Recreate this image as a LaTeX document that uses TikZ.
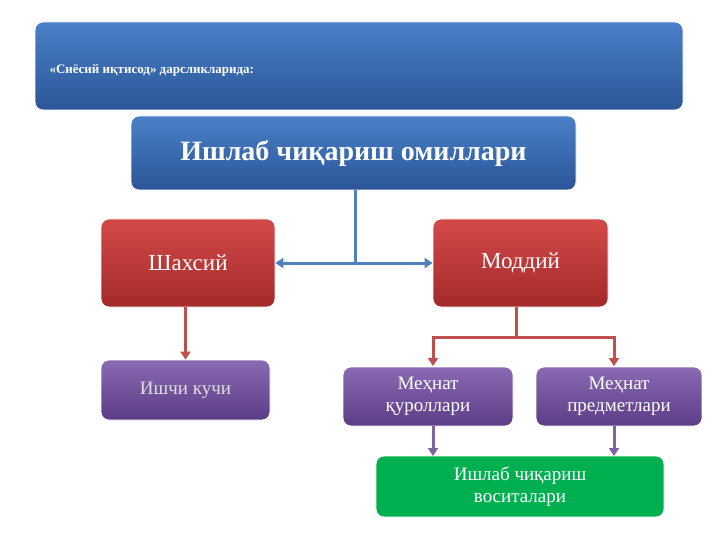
\documentclass[tikz,border=0pt]{standalone}
\usepackage{fontspec}
\setmainfont{Liberation Serif}
\usetikzlibrary{arrows.meta}
\definecolor{bt}{HTML}{4A80C8}\definecolor{bb}{HTML}{2B5597}
\definecolor{rt}{HTML}{D24A48}\definecolor{rb}{HTML}{A32A2A}
\definecolor{pt}{HTML}{8A6AB2}\definecolor{pb}{HTML}{5B3C86}
\definecolor{gg}{HTML}{00B050}
\definecolor{bline}{HTML}{4F81BD}\definecolor{rline}{HTML}{C0504D}\definecolor{pline}{HTML}{8064A2}
\begin{document}
\begin{tikzpicture}[x=1pt,y=-1pt,
  box/.style={rounded corners=8pt, draw=white, line width=0.8pt, text=white, align=center, inner sep=0pt, drop shadow/.style={}},
  bluebox/.style={box, top color=bt, bottom color=bb},
  redbox/.style={box, top color=rt, bottom color=rb},
  purplebox/.style={box, top color=pt, bottom color=pb},
  greenbox/.style={box, fill=gg},
  arr/.style={line width=3pt, -{Triangle[length=8pt,width=10pt]}},
  bl/.style={arr, draw=bline},
  rl/.style={arr, draw=rline},
  pl/.style={arr, draw=pline}]
\useasboundingbox (0,0) rectangle (720,540);
\node[bluebox, minimum width=648pt, minimum height=88pt] (top) at (359,66) {};
\node[anchor=west, text=white, font=\bfseries\fontsize{13}{15}\selectfont] (toptext) at (46,70) {«Сиёсий иқтисод» дарсликларида:};
\node[bluebox, minimum width=445pt, minimum height=74pt, font=\bfseries\fontsize{28}{32}\selectfont] (om) at (353.5,153) {Ишлаб чиқариш омиллари};
\node[redbox, minimum width=174pt, minimum height=88pt, font=\fontsize{23}{27}\selectfont] (sh) at (188,263) {Шахсий};
\node[redbox, minimum width=175pt, minimum height=88pt, font=\fontsize{23}{27}\selectfont] (mo) at (520.5,263) {Моддий};
\node[purplebox, minimum width=169pt, minimum height=60pt, font=\fontsize{19}{22}\selectfont, text=gray!25] (ik) at (185.5,390) {Ишчи кучи};
\node[purplebox, minimum width=170pt, minimum height=59pt, font=\fontsize{19}{22}\selectfont] (mq) at (428,396.5) {Меҳнат\\қуроллари};
\node[purplebox, minimum width=166pt, minimum height=59pt, font=\fontsize{19}{22}\selectfont] (mp) at (619,396.5) {Меҳнат\\предметлари};
\node[greenbox, minimum width=288pt, minimum height=61pt, font=\fontsize{19}{22}\selectfont] (is) at (520,486.5) {Ишлаб чиқариш\\воситалари};
\coordinate (j) at (355,263);
\draw[bline, line width=3pt] (om.south -| j) -- (j);
\draw[bl] (j) -- (sh.east);
\draw[bl] (j) -- (mo.west);
\draw[rl] (sh.south -| ik) -- (ik.north);
\coordinate (r) at (516,337);
\draw[rline, line width=3pt] (mo.south -| r) -- (r);
\draw[rl] (r) -| (433,366);
\draw[rl] (r) -| (614,366);
\draw[pl] (433,426) -- (433,456);
\draw[pl] (614,426) -- (614,456);
\end{tikzpicture}
\end{document}
